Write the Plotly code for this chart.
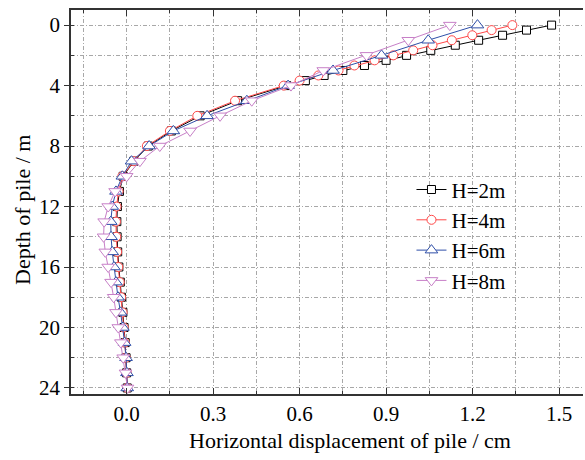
import plotly.graph_objects as go

# Depth along the pile (m): finer sampling near the head for H=2m / H=4m
depth_fine = [0, 0.33, 0.67, 1, 1.33, 1.67, 2, 2.33, 2.67, 3, 3.33, 3.67, 4,
              5, 6, 7, 8, 9, 10, 11, 12, 13, 14, 15, 16, 17, 18, 19, 20,
              21, 22, 23, 24]
depth_coarse = [0, 1, 2, 3, 4, 5, 6, 7, 8, 9, 10, 11, 12, 13, 14, 15, 16,
                17, 18, 19, 20, 21, 22, 23, 24]

# Horizontal displacement (cm)
disp_h2 = [1.474, 1.387, 1.304, 1.221, 1.140, 1.055, 0.971, 0.900, 0.825,
           0.750, 0.685, 0.620, 0.555, 0.385, 0.255, 0.155, 0.075, 0.025,
           -0.012, -0.025, -0.032, -0.034, -0.033, -0.031, -0.027, -0.022,
           -0.018, -0.013, -0.009, -0.005, -0.002, 0.000, 0.002]
disp_h4 = [1.338, 1.266, 1.199, 1.128, 1.061, 0.994, 0.925, 0.860, 0.790,
           0.735, 0.665, 0.600, 0.545, 0.376, 0.245, 0.150, 0.070, 0.025,
           -0.015, -0.028, -0.035, -0.037, -0.036, -0.033, -0.029, -0.024,
           -0.019, -0.014, -0.010, -0.006, -0.003, 0.000, 0.002]
disp_h6 = [1.217, 1.046, 0.884, 0.716, 0.560, 0.417, 0.279, 0.162, 0.078,
           0.017, -0.015, -0.037, -0.050, -0.055, -0.054, -0.050, -0.044,
           -0.037, -0.030, -0.021, -0.013, -0.007, -0.002, 0.001, 0.002]
disp_h8 = [1.121, 0.977, 0.832, 0.682, 0.570, 0.434, 0.324, 0.220, 0.115,
           0.046, 0.000, -0.040, -0.064, -0.078, -0.080, -0.074, -0.064,
           -0.054, -0.045, -0.037, -0.029, -0.020, -0.012, -0.004, 0.003]

labels = ["H=2m", "H=4m", "H=6m", "H=8m"]
x_ticks = [0.0, 0.3, 0.6, 0.9, 1.2, 1.5]
y_ticks = [0, 4, 8, 12, 16, 20, 24]
x_title = "Horizontal displacement of pile / cm"
y_title = "Depth of pile / m"

FONT = "Liberation Serif, Times New Roman, serif"

series = [
    (disp_h2, depth_fine, labels[0], "#000000", "square", 8),
    (disp_h4, depth_fine, labels[1], "#ff4848", "circle", 9),
    (disp_h6, depth_coarse, labels[2], "#2f4fa8", "triangle-up", 11),
    (disp_h8, depth_coarse, labels[3], "#c77fc7", "triangle-down", 11),
]

fig = go.Figure()
for xs, ys, name, color, symbol, size in series:
    fig.add_trace(go.Scatter(
        x=xs, y=ys, name=name, mode="lines+markers",
        line=dict(color=color, width=1),
        marker=dict(symbol=symbol, size=size, color="white",
                    line=dict(color=color, width=1)),
    ))

grid = dict(gridcolor="#a8a8a8", gridwidth=1, griddash="4px,2px,1px,2px")

fig.update_xaxes(
    range=[-0.193, 1.583], tickvals=x_ticks, tickformat=".1f",
    ticks="inside", ticklen=6, tickcolor="#333", tickwidth=1,
    showline=True, linecolor="#333", linewidth=1.5, mirror="ticks",
    zeroline=False, showgrid=True, **grid,
    minor=dict(dtick=0.15, tick0=0, ticks="inside", ticklen=3,
               tickcolor="#333", showgrid=True, **grid),
    tickfont=dict(family=FONT, size=21, color="black"),
    ticklabelstandoff=0,
)
fig.update_yaxes(
    range=[24.4, -1], tickvals=y_ticks,
    ticks="outside", ticklen=5, tickcolor="#333", tickwidth=1,
    showline=True, linecolor="#333", linewidth=1.5, mirror=False,
    zeroline=False, showgrid=True, **grid,
    minor=dict(dtick=2, tick0=0, ticks="inside", ticklen=3,
               tickcolor="#333", showgrid=True, **grid),
    tickfont=dict(family=FONT, size=21, color="black"),
)

# Axis titles placed as paper-anchored text
fig.add_annotation(text=x_title, xref="paper", yref="paper",
                   x=0.545, y=-0.122, xanchor="center", yanchor="middle",
                   showarrow=False,
                   font=dict(family=FONT, size=22, color="black"))
fig.add_annotation(text=y_title, xref="paper", yref="paper",
                   x=-0.096, y=0.479, xanchor="center", yanchor="middle",
                   textangle=-90, showarrow=False,
                   font=dict(family=FONT, size=22, color="black"))

fig.update_layout(
    width=585, height=460,
    margin=dict(l=71, r=2, t=10, b=66),
    paper_bgcolor="white", plot_bgcolor="white",
    font=dict(family=FONT, color="black"),
    legend=dict(x=0.665, y=0.585, xanchor="left", yanchor="top",
                bgcolor="rgba(0,0,0,0)", borderwidth=0,
                font=dict(family=FONT, size=21, color="black"),
                tracegroupgap=0),
)

fig.write_html("out.html")
